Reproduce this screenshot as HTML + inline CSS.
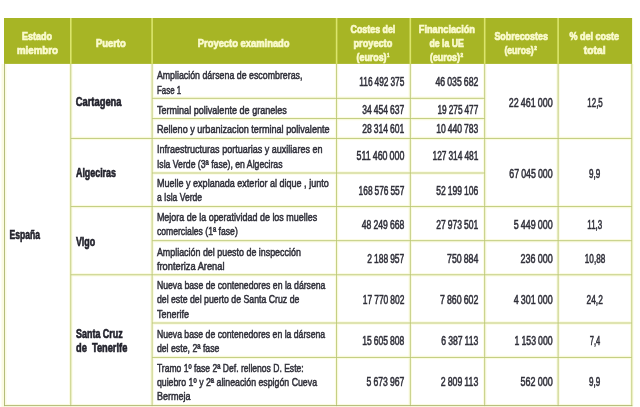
<!DOCTYPE html>
<html lang="es"><head><meta charset="utf-8"><title>Tabla</title>
<style>
html,body{margin:0;padding:0;background:#fff}
svg{display:block}
text{font-family:"Liberation Sans",sans-serif;white-space:pre}
.b{font-weight:bold}
</style></head><body>
<svg width="640" height="407" viewBox="0 0 640 407">
<rect x="0" y="0" width="640" height="407" fill="#fff"/>
<rect x="2" y="403.90000000000003" width="631" height="3.1" fill="#fbfbe2"/>
<rect x="152.10" y="355.70" width="479.70" height="3.4" fill="#fbfbe2"/>
<rect x="152.10" y="321.30" width="479.70" height="3.4" fill="#fbfbe2"/>
<rect x="152.10" y="239.00" width="479.70" height="3.4" fill="#fbfbe2"/>
<rect x="70.80" y="273.10" width="561.00" height="3.4" fill="#fbfbe2"/>
<rect x="70.80" y="204.90" width="561.00" height="3.4" fill="#fbfbe2"/>
<rect x="70.80" y="136.70" width="561.00" height="3.4" fill="#fbfbe2"/>
<rect x="152.10" y="171.30" width="332.60" height="3.4" fill="#fbfbe2"/>
<rect x="152.10" y="116.90" width="332.60" height="3.4" fill="#fbfbe2"/>
<rect x="152.10" y="96.60" width="332.60" height="3.4" fill="#fbfbe2"/>
<rect x="1.5" y="63.9" width="5" height="343.70000000000005" fill="#fbfbe2"/>
<rect x="630.10" y="63.9" width="3.4" height="342.20" fill="#fbfbe2"/>
<rect x="556.40" y="63.9" width="3.4" height="342.20" fill="#fbfbe2"/>
<rect x="483.00" y="63.9" width="3.4" height="342.20" fill="#fbfbe2"/>
<rect x="408.60" y="63.9" width="3.4" height="342.20" fill="#fbfbe2"/>
<rect x="334.90" y="63.9" width="3.4" height="342.20" fill="#fbfbe2"/>
<rect x="150.40" y="63.9" width="3.4" height="342.20" fill="#fbfbe2"/>
<rect x="69.10" y="63.9" width="3.4" height="342.20" fill="#fbfbe2"/>
<rect x="4" y="18" width="628.0999999999999" height="45.9" fill="#a7b525"/>
<rect x="70.00" y="18" width="1.6" height="45.90" fill="#dbe56c"/>
<rect x="151.30" y="18" width="1.6" height="45.90" fill="#dbe56c"/>
<rect x="335.80" y="18" width="1.6" height="45.90" fill="#dbe56c"/>
<rect x="409.50" y="18" width="1.6" height="45.90" fill="#dbe56c"/>
<rect x="483.90" y="18" width="1.6" height="45.90" fill="#dbe56c"/>
<rect x="557.30" y="18" width="1.6" height="45.90" fill="#dbe56c"/>
<rect x="70.35" y="63.9" width="0.9" height="342.20" fill="#bcc874"/>
<rect x="151.65" y="63.9" width="0.9" height="342.20" fill="#bcc874"/>
<rect x="336.15" y="63.9" width="0.9" height="342.20" fill="#bcc874"/>
<rect x="409.85" y="63.9" width="0.9" height="342.20" fill="#bcc874"/>
<rect x="484.25" y="63.9" width="0.9" height="342.20" fill="#bcc874"/>
<rect x="557.65" y="63.9" width="0.9" height="342.20" fill="#bcc874"/>
<rect x="631.35" y="63.9" width="0.9" height="342.20" fill="#bcc874"/>
<rect x="4.00" y="63.9" width="0.9" height="342.20" fill="#adb670"/>
<rect x="152.10" y="97.85" width="332.60" height="0.9" fill="#bcc874"/>
<rect x="152.10" y="118.15" width="332.60" height="0.9" fill="#bcc874"/>
<rect x="152.10" y="172.55" width="332.60" height="0.9" fill="#bcc874"/>
<rect x="70.80" y="137.95" width="561.00" height="0.9" fill="#bcc874"/>
<rect x="70.80" y="206.15" width="561.00" height="0.9" fill="#bcc874"/>
<rect x="70.80" y="274.35" width="561.00" height="0.9" fill="#bcc874"/>
<rect x="152.10" y="240.25" width="479.70" height="0.9" fill="#bcc874"/>
<rect x="152.10" y="322.55" width="479.70" height="0.9" fill="#bcc874"/>
<rect x="152.10" y="356.95" width="479.70" height="0.9" fill="#bcc874"/>
<rect x="4.00" y="405.15" width="628.30" height="0.9" fill="#adb670"/>
<text class="b" transform="matrix(0.8486 0 0 1 21.90 40.00)" font-size="10.6" fill="#fafacd" stroke="#fafacd" stroke-width="0.7">Estado</text>
<text class="b" transform="matrix(0.9177 0 0 1 16.90 53.80)" font-size="10.6" fill="#fafacd" stroke="#fafacd" stroke-width="0.7">miembro</text>
<text class="b" transform="matrix(0.8912 0 0 1 95.90 46.70)" font-size="10.6" fill="#fafacd" stroke="#fafacd" stroke-width="0.7">Puerto</text>
<text class="b" transform="matrix(0.8865 0 0 1 197.80 46.50)" font-size="10.6" fill="#fafacd" stroke="#fafacd" stroke-width="0.7">Proyecto examinado</text>
<text class="b" transform="matrix(0.8342 0 0 1 350.60 32.50)" font-size="10.6" fill="#fafacd" stroke="#fafacd" stroke-width="0.7">Costes del</text>
<text class="b" transform="matrix(0.8664 0 0 1 353.50 46.90)" font-size="10.6" fill="#fafacd" stroke="#fafacd" stroke-width="0.7">proyecto</text>
<text class="b" transform="matrix(0.8349 0 0 1 356.60 61.10)" font-size="10.6" fill="#fafacd" stroke="#fafacd" stroke-width="0.7">(euros)</text>
<text class="b" transform="matrix(0.8677 0 0 1 418.80 32.50)" font-size="10.6" fill="#fafacd" stroke="#fafacd" stroke-width="0.7">Financiación</text>
<text class="b" transform="matrix(0.8226 0 0 1 429.40 46.90)" font-size="10.6" fill="#fafacd" stroke="#fafacd" stroke-width="0.7">de la UE</text>
<text class="b" transform="matrix(0.8349 0 0 1 430.00 61.10)" font-size="10.6" fill="#fafacd" stroke="#fafacd" stroke-width="0.7">(euros)</text>
<text class="b" transform="matrix(0.8421 0 0 1 494.40 40.20)" font-size="10.6" fill="#fafacd" stroke="#fafacd" stroke-width="0.7">Sobrecostes</text>
<text class="b" transform="matrix(0.8098 0 0 1 504.50 53.70)" font-size="10.6" fill="#fafacd" stroke="#fafacd" stroke-width="0.7">(euros)</text>
<text class="b" transform="matrix(0.8508 0 0 1 569.40 40.00)" font-size="10.6" fill="#fafacd" stroke="#fafacd" stroke-width="0.7">% del coste</text>
<text class="b" transform="matrix(0.9747 0 0 1 583.80 53.50)" font-size="10.6" fill="#fafacd" stroke="#fafacd" stroke-width="0.7">total</text>
<text class="b" transform="matrix(0.6006 0 0 1 387.30 56.80)" font-size="6" fill="#fafacd" stroke="#fafacd" stroke-width="0.7">1</text>
<text class="b" transform="matrix(0.7808 0 0 1 460.60 56.80)" font-size="6" fill="#fafacd" stroke="#fafacd" stroke-width="0.7">2</text>
<text class="b" transform="matrix(0.7808 0 0 1 534.30 49.60)" font-size="6" fill="#fafacd" stroke="#fafacd" stroke-width="0.7">2</text>
<text transform="matrix(0.7479 0 0 1 156.90 79.00)" font-size="11.8" fill="#30303a" stroke="#30303a" stroke-width="0.55">Ampliación dársena de escombreras,</text>
<text transform="matrix(0.6741 0 0 1 156.90 93.80)" font-size="11.8" fill="#30303a" stroke="#30303a" stroke-width="0.55">Fase 1</text>
<text transform="matrix(0.7689 0 0 1 156.90 113.60)" font-size="11.8" fill="#30303a" stroke="#30303a" stroke-width="0.55">Terminal polivalente de graneles</text>
<text transform="matrix(0.7712 0 0 1 156.90 132.90)" font-size="11.8" fill="#30303a" stroke="#30303a" stroke-width="0.55">Relleno y urbanizacion terminal polivalente</text>
<text transform="matrix(0.7657 0 0 1 156.90 153.10)" font-size="11.8" fill="#30303a" stroke="#30303a" stroke-width="0.55">Infraestructuras portuarias y auxiliares en</text>
<text transform="matrix(0.7357 0 0 1 156.90 167.60)" font-size="11.8" fill="#30303a" stroke="#30303a" stroke-width="0.55">Isla Verde (3ª fase), en Algeciras</text>
<text transform="matrix(0.7672 0 0 1 156.90 187.00)" font-size="11.8" fill="#30303a" stroke="#30303a" stroke-width="0.55">Muelle y explanada exterior al dique , junto</text>
<text transform="matrix(0.7271 0 0 1 156.90 201.40)" font-size="11.8" fill="#30303a" stroke="#30303a" stroke-width="0.55">a Isla Verde</text>
<text transform="matrix(0.7594 0 0 1 156.90 221.10)" font-size="11.8" fill="#30303a" stroke="#30303a" stroke-width="0.55">Mejora de la operatividad de los muelles</text>
<text transform="matrix(0.7322 0 0 1 156.90 235.30)" font-size="11.8" fill="#30303a" stroke="#30303a" stroke-width="0.55">comerciales (1ª fase)</text>
<text transform="matrix(0.7555 0 0 1 156.90 255.70)" font-size="11.8" fill="#30303a" stroke="#30303a" stroke-width="0.55">Ampliación del puesto de inspección</text>
<text transform="matrix(0.7869 0 0 1 156.90 270.00)" font-size="11.8" fill="#30303a" stroke="#30303a" stroke-width="0.55">fronteriza Arenal</text>
<text transform="matrix(0.7363 0 0 1 156.90 289.00)" font-size="11.8" fill="#30303a" stroke="#30303a" stroke-width="0.55">Nueva base de contenedores en la dársena</text>
<text transform="matrix(0.7424 0 0 1 156.90 303.40)" font-size="11.8" fill="#30303a" stroke="#30303a" stroke-width="0.55">del este del puerto de Santa Cruz de</text>
<text transform="matrix(0.7665 0 0 1 156.90 318.00)" font-size="11.8" fill="#30303a" stroke="#30303a" stroke-width="0.55">Tenerife</text>
<text transform="matrix(0.7359 0 0 1 156.90 337.60)" font-size="11.8" fill="#30303a" stroke="#30303a" stroke-width="0.55">Nueva base de contenedores en la dársena</text>
<text transform="matrix(0.7420 0 0 1 156.90 351.70)" font-size="11.8" fill="#30303a" stroke="#30303a" stroke-width="0.55">del este, 2ª fase</text>
<text transform="matrix(0.7264 0 0 1 156.90 372.00)" font-size="11.8" fill="#30303a" stroke="#30303a" stroke-width="0.55">Tramo 1º fase 2ª Def. rellenos D. Este:</text>
<text transform="matrix(0.7444 0 0 1 156.90 386.00)" font-size="11.8" fill="#30303a" stroke="#30303a" stroke-width="0.55">quiebro 1º y 2ª alineación espigón Cueva</text>
<text transform="matrix(0.7657 0 0 1 156.90 400.00)" font-size="11.8" fill="#30303a" stroke="#30303a" stroke-width="0.55">Bermeja</text>
<text transform="matrix(0.6924 0 0 1 359.20 86.30)" font-size="12.1" fill="#30303a" stroke="#30303a" stroke-width="0.55" style="word-spacing:-0.54px">116 492 375</text>
<text transform="matrix(0.7079 0 0 1 362.30 114.10)" font-size="12.1" fill="#30303a" stroke="#30303a" stroke-width="0.55" style="word-spacing:-0.54px">34 454 637</text>
<text transform="matrix(0.7079 0 0 1 362.30 133.30)" font-size="12.1" fill="#30303a" stroke="#30303a" stroke-width="0.55" style="word-spacing:-0.54px">28 314 601</text>
<text transform="matrix(0.7338 0 0 1 356.50 160.30)" font-size="12.1" fill="#30303a" stroke="#30303a" stroke-width="0.55" style="word-spacing:-0.54px">511 460 000</text>
<text transform="matrix(0.6920 0 0 1 358.60 195.20)" font-size="12.1" fill="#30303a" stroke="#30303a" stroke-width="0.55" style="word-spacing:-0.54px">168 576 557</text>
<text transform="matrix(0.7163 0 0 1 361.80 229.10)" font-size="12.1" fill="#30303a" stroke="#30303a" stroke-width="0.55" style="word-spacing:-0.54px">48 249 668</text>
<text transform="matrix(0.7032 0 0 1 367.30 262.80)" font-size="12.1" fill="#30303a" stroke="#30303a" stroke-width="0.55" style="word-spacing:-0.54px">2 188 957</text>
<text transform="matrix(0.6995 0 0 1 362.80 304.20)" font-size="12.1" fill="#30303a" stroke="#30303a" stroke-width="0.55" style="word-spacing:-0.54px">17 770 802</text>
<text transform="matrix(0.7079 0 0 1 362.30 345.30)" font-size="12.1" fill="#30303a" stroke="#30303a" stroke-width="0.55" style="word-spacing:-0.54px">15 605 808</text>
<text transform="matrix(0.7165 0 0 1 366.60 385.90)" font-size="12.1" fill="#30303a" stroke="#30303a" stroke-width="0.55" style="word-spacing:-0.54px">5 673 967</text>
<text transform="matrix(0.7214 0 0 1 435.50 86.30)" font-size="12.1" fill="#30303a" stroke="#30303a" stroke-width="0.55" style="word-spacing:-0.54px">46 035 682</text>
<text transform="matrix(0.6877 0 0 1 437.50 114.10)" font-size="12.1" fill="#30303a" stroke="#30303a" stroke-width="0.55" style="word-spacing:-0.54px">19 275 477</text>
<text transform="matrix(0.7079 0 0 1 436.30 133.30)" font-size="12.1" fill="#30303a" stroke="#30303a" stroke-width="0.55" style="word-spacing:-0.54px">10 440 783</text>
<text transform="matrix(0.6935 0 0 1 432.50 160.30)" font-size="12.1" fill="#30303a" stroke="#30303a" stroke-width="0.55" style="word-spacing:-0.54px">127 314 481</text>
<text transform="matrix(0.7079 0 0 1 436.30 195.20)" font-size="12.1" fill="#30303a" stroke="#30303a" stroke-width="0.55" style="word-spacing:-0.54px">52 199 106</text>
<text transform="matrix(0.7079 0 0 1 436.30 229.10)" font-size="12.1" fill="#30303a" stroke="#30303a" stroke-width="0.55" style="word-spacing:-0.54px">27 973 501</text>
<text transform="matrix(0.7269 0 0 1 447.00 262.80)" font-size="12.1" fill="#30303a" stroke="#30303a" stroke-width="0.55" style="word-spacing:-0.54px">750 884</text>
<text transform="matrix(0.7279 0 0 1 440.00 304.20)" font-size="12.1" fill="#30303a" stroke="#30303a" stroke-width="0.55" style="word-spacing:-0.54px">7 860 602</text>
<text transform="matrix(0.7155 0 0 1 441.30 345.30)" font-size="12.1" fill="#30303a" stroke="#30303a" stroke-width="0.55" style="word-spacing:-0.54px">6 387 113</text>
<text transform="matrix(0.7252 0 0 1 440.80 385.90)" font-size="12.1" fill="#30303a" stroke="#30303a" stroke-width="0.55" style="word-spacing:-0.54px">2 809 113</text>
<text transform="matrix(0.7382 0 0 1 508.80 107.00)" font-size="12.1" fill="#30303a" stroke="#30303a" stroke-width="0.55" style="word-spacing:-0.54px">22 461 000</text>
<text transform="matrix(0.7298 0 0 1 509.30 178.20)" font-size="12.1" fill="#30303a" stroke="#30303a" stroke-width="0.55" style="word-spacing:-0.54px">67 045 000</text>
<text transform="matrix(0.7374 0 0 1 513.80 229.10)" font-size="12.1" fill="#30303a" stroke="#30303a" stroke-width="0.55" style="word-spacing:-0.54px">5 449 000</text>
<text transform="matrix(0.7431 0 0 1 520.60 262.80)" font-size="12.1" fill="#30303a" stroke="#30303a" stroke-width="0.55" style="word-spacing:-0.54px">236 000</text>
<text transform="matrix(0.7374 0 0 1 513.80 304.20)" font-size="12.1" fill="#30303a" stroke="#30303a" stroke-width="0.55" style="word-spacing:-0.54px">4 301 000</text>
<text transform="matrix(0.7222 0 0 1 514.60 345.30)" font-size="12.1" fill="#30303a" stroke="#30303a" stroke-width="0.55" style="word-spacing:-0.54px">1 153 000</text>
<text transform="matrix(0.7431 0 0 1 520.60 385.90)" font-size="12.1" fill="#30303a" stroke="#30303a" stroke-width="0.55" style="word-spacing:-0.54px">562 000</text>
<text transform="matrix(0.6586 0 0 1 587.30 107.00)" font-size="12.1" fill="#30303a" stroke="#30303a" stroke-width="0.55">12,5</text>
<text transform="matrix(0.6719 0 0 1 589.00 178.20)" font-size="12.1" fill="#30303a" stroke="#30303a" stroke-width="0.55">9,9</text>
<text transform="matrix(0.6629 0 0 1 587.30 229.10)" font-size="12.1" fill="#30303a" stroke="#30303a" stroke-width="0.55">11,3</text>
<text transform="matrix(0.6763 0 0 1 584.80 262.80)" font-size="12.1" fill="#30303a" stroke="#30303a" stroke-width="0.55">10,88</text>
<text transform="matrix(0.6926 0 0 1 586.50 304.20)" font-size="12.1" fill="#30303a" stroke="#30303a" stroke-width="0.55">24,2</text>
<text transform="matrix(0.6243 0 0 1 589.80 345.30)" font-size="12.1" fill="#30303a" stroke="#30303a" stroke-width="0.55">7,4</text>
<text transform="matrix(0.6719 0 0 1 589.00 385.90)" font-size="12.1" fill="#30303a" stroke="#30303a" stroke-width="0.55">9,9</text>
<text class="b" transform="matrix(0.7036 0 0 1 9.50 238.50)" font-size="12.2" fill="#22222c" stroke="#22222c" stroke-width="0.6">España</text>
<text class="b" transform="matrix(0.7695 0 0 1 75.70 105.50)" font-size="12.2" fill="#22222c" stroke="#22222c" stroke-width="0.6">Cartagena</text>
<text class="b" transform="matrix(0.7278 0 0 1 76.00 177.20)" font-size="12.2" fill="#22222c" stroke="#22222c" stroke-width="0.6">Algeciras</text>
<text class="b" transform="matrix(0.7320 0 0 1 76.00 245.80)" font-size="12.2" fill="#22222c" stroke="#22222c" stroke-width="0.6">Vigo</text>
<text class="b" transform="matrix(0.7342 0 0 1 76.00 337.60)" font-size="12.2" fill="#22222c" stroke="#22222c" stroke-width="0.6">Santa Cruz</text>
<text class="b" transform="matrix(0.7590 0 0 1 76.00 351.90)" font-size="12.2" fill="#22222c" stroke="#22222c" stroke-width="0.6">de  Tenerife</text>
</svg>
</body></html>
